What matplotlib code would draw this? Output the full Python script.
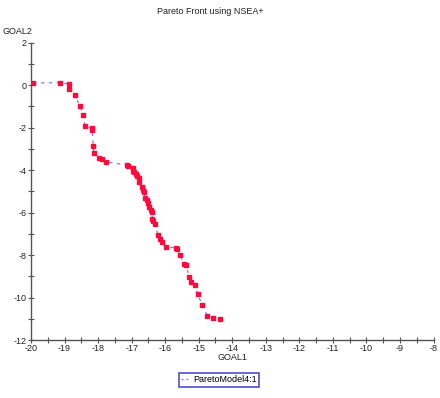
import matplotlib
matplotlib.use("Agg")
import matplotlib.pyplot as plt
from matplotlib.ticker import MultipleLocator
from matplotlib.lines import Line2D

plt.rcParams['font.family'] = ['Liberation Sans', 'DejaVu Sans']

goal1 = [-19.93, -19.14, -18.88, -18.86, -18.69, -18.54, -18.44, -18.39, -18.19, -18.18,
         -18.14, -18.13, -17.96, -17.89, -17.75, -17.14, -17.10, -16.97, -16.96, -16.92,
         -16.87, -16.85, -16.77, -16.77, -16.70, -16.67, -16.63, -16.60, -16.55, -16.51,
         -16.47, -16.43, -16.40, -16.38, -16.35, -16.31, -16.21, -16.15, -16.09, -15.97,
         -15.68, -15.65, -15.56, -15.43, -15.37, -15.28, -15.22, -15.10, -15.03, -14.90,
         -14.74, -14.57, -14.38]
goal2 = [0.10, 0.12, 0.06, -0.18, -0.46, -1.00, -1.41, -1.94, -2.03, -2.10,
         -2.85, -3.19, -3.43, -3.50, -3.62, -3.76, -3.80, -3.89, -4.04, -4.11,
         -4.18, -4.27, -4.36, -4.56, -4.78, -4.93, -5.05, -5.31, -5.42, -5.53,
         -5.74, -5.86, -5.97, -6.28, -6.39, -6.54, -7.05, -7.24, -7.39, -7.62,
         -7.66, -7.71, -7.99, -8.44, -8.49, -9.05, -9.26, -9.43, -9.85, -10.33,
         -10.85, -10.97, -11.02]

x_ticks = list(range(-20, -7))
y_ticks = list(range(-12, 3, 2))
series_name = "ParetoModel4:1"

fig = plt.figure(figsize=(4.4, 3.98), dpi=100)
ax = fig.add_axes([31/440, 1 - 340/398, (433.5-31)/440, (340-42.7)/398])

ax.plot(goal1, goal2, linestyle=(0, (3, 4)), color='#6e6eff', linewidth=0.8,
        label=series_name, zorder=2)
ax.plot(goal1, goal2, linestyle='none', marker='s', markersize=3.4,
        color='#ff0a3c', markeredgecolor='#ff0a3c', zorder=3)

ax.set_xlim(-20, -8)
ax.set_ylim(-12, 2)
ax.set_xticks(x_ticks)
ax.set_xticklabels([str(v) for v in x_ticks])
ax.set_yticks(y_ticks)
ax.set_yticklabels([str(v) for v in y_ticks])
ax.xaxis.set_minor_locator(MultipleLocator(0.5))
ax.yaxis.set_minor_locator(MultipleLocator(1))

for s in ['top', 'right']:
    ax.spines[s].set_visible(False)
for s in ['left', 'bottom']:
    ax.spines[s].set_color('#555555')
    ax.spines[s].set_linewidth(1.0)

ax.tick_params(which='both', direction='inout', length=4, width=0.8, colors='#555555',
               labelsize=6.5, labelcolor='#222222', pad=1)

fig.text(210/440, 1 - 12/398, "Pareto Front using NSEA+", ha='center', va='center',
         fontsize=6.5, color='#222222')
fig.text(17/440, 1 - 32/398, "GOAL2", ha='center', va='center', fontsize=6.5, color='#222222')
fig.text(232/440, 1 - 358/398, "GOAL1", ha='center', va='center', fontsize=6.5, color='#222222')

proxy = Line2D([], [], linestyle=(0, (1.5, 2.5)), color='#6e6eff', linewidth=0.9)
leg = fig.legend(handles=[proxy], labels=[series_name], loc='center',
                 bbox_to_anchor=(219/440, 1 - 380/398), fontsize=6.5, frameon=True,
                 fancybox=False, handlelength=1.0, handletextpad=0.3, borderpad=0.3,
                 borderaxespad=0)
leg.get_frame().set_edgecolor('#2222bb')
leg.get_frame().set_linewidth(1.2)

fig.savefig("out.png", dpi=100)
